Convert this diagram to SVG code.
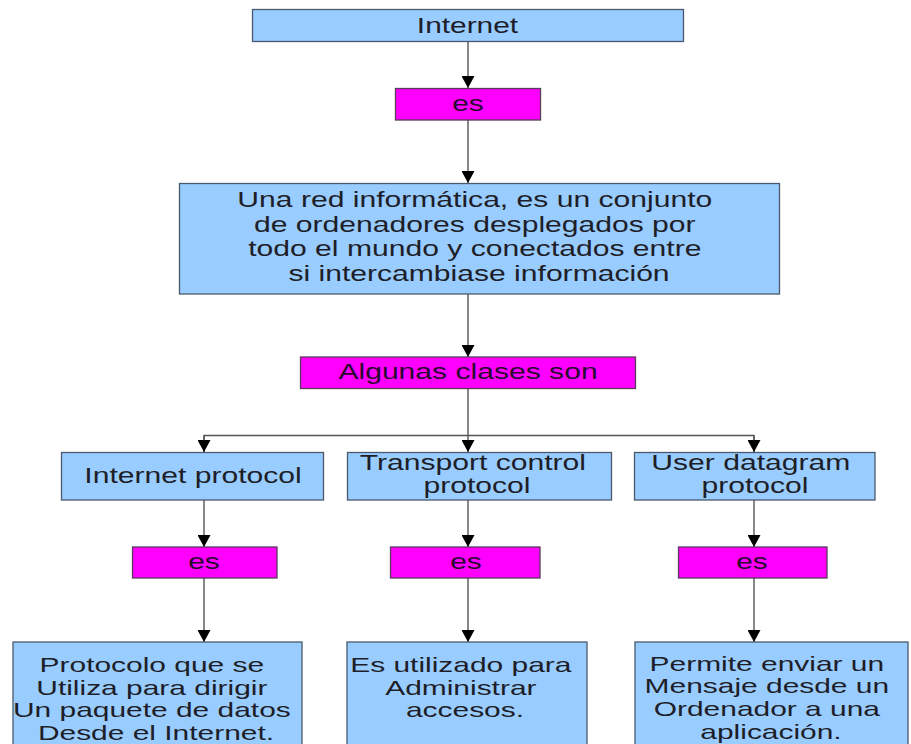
<svg xmlns="http://www.w3.org/2000/svg" width="911" height="744" viewBox="0 0 911 744">
<defs>
<marker id="arr" markerUnits="userSpaceOnUse" markerWidth="13" markerHeight="13" refX="12" refY="6.5" orient="auto" viewBox="0 0 13 13">
<path d="M0,0 L12,6.5 L0,13 Z" fill="#000"/>
</marker>
<style>
.blue{fill:#99ccff;stroke:#4a5a6e;stroke-width:1.3}
.mag{fill:#ff00ff;stroke:#5a3a5a;stroke-width:1.3}
.t{font-family:"Liberation Sans",Arial,sans-serif;font-size:21.5px;fill:#1e1e28;text-anchor:middle}
.tb{font-size:20.5px}
.tm{fill:#2a0a30}
.c{fill:none;stroke:#555;stroke-width:1.4}
.ca{fill:none;stroke:#555;stroke-width:1.4;marker-end:url(#arr)}
</style>
</defs>
<rect width="911" height="744" fill="#fff"/>
<g id="connectors">
<line class="ca" x1="468" y1="42" x2="468" y2="88"/>
<line class="ca" x1="468" y1="120" x2="468" y2="183"/>
<line class="ca" x1="468" y1="294" x2="468" y2="357"/>
<line class="c" x1="468" y1="388" x2="468" y2="435.5"/>
<polyline class="c" points="204,452 204,435.5 754,435.5 754,452"/>
<line class="ca" x1="204" y1="436" x2="204" y2="452"/>
<line class="ca" x1="468" y1="436" x2="468" y2="452"/>
<line class="ca" x1="754" y1="436" x2="754" y2="452"/>
<line class="ca" x1="204" y1="500" x2="204" y2="547"/>
<line class="ca" x1="468" y1="500" x2="468" y2="547"/>
<line class="ca" x1="754" y1="500" x2="754" y2="547"/>
<line class="ca" x1="204" y1="578" x2="204" y2="642"/>
<line class="ca" x1="468" y1="578" x2="468" y2="642"/>
<line class="ca" x1="754" y1="578" x2="754" y2="642"/>
</g>
<g id="internet">
<rect class="blue" x="252.5" y="9.5" width="431" height="32"/>
<text class="t" transform="translate(467.5,0) scale(1.39,1)" x="0" y="33">Internet</text>
</g>
<g id="es1">
<rect class="mag" x="395.5" y="88.5" width="145" height="31.5"/>
<text class="t tm" transform="translate(468,0) scale(1.39,1)" x="0" y="111">es</text>
</g>
<g id="red">
<rect class="blue" x="179.5" y="183.5" width="600" height="110.5"/>
<text class="t" transform="translate(479,0) scale(1.40,1)">
<tspan x="0" y="207.5">Una red informática, es un conjunto</tspan>
<tspan x="0" y="232">de ordenadores desplegados por</tspan>
<tspan x="0" y="256.5">todo el mundo y conectados entre</tspan>
<tspan x="0" y="281">si intercambiase información</tspan>
</text>
</g>
<g id="clases">
<rect class="mag" x="300.5" y="357" width="335" height="31.5"/>
<text class="t tm" transform="translate(468,0) scale(1.40,1)" x="0" y="379.5">Algunas clases son</text>
</g>
<g id="ip">
<rect class="blue" x="61.5" y="452.5" width="262" height="47.5"/>
<text class="t" transform="translate(193,0) scale(1.40,1)" x="0" y="483">Internet protocol</text>
</g>
<g id="tcp">
<rect class="blue" x="347.5" y="452.5" width="264" height="47.5"/>
<text class="t" transform="translate(477,0) scale(1.40,1)">
<tspan x="0" y="470">Transport control</tspan>
<tspan x="0" y="493.5">protocol</tspan>
</text>
</g>
<g id="udp">
<rect class="blue" x="634.5" y="452.5" width="240.5" height="47.5"/>
<text class="t" transform="translate(755,0) scale(1.40,1)">
<tspan x="0" y="470">User datagram</tspan>
<tspan x="0" y="493.5">protocol</tspan>
</text>
</g>
<g id="es2">
<rect class="mag" x="132.5" y="547" width="144.5" height="31"/>
<text class="t tm" transform="translate(204,0) scale(1.39,1)" x="0" y="569.5">es</text>
</g>
<g id="es3">
<rect class="mag" x="390.5" y="547" width="149.5" height="31"/>
<text class="t tm" transform="translate(466,0) scale(1.39,1)" x="0" y="569.5">es</text>
</g>
<g id="es4">
<rect class="mag" x="678.5" y="547" width="148.5" height="31"/>
<text class="t tm" transform="translate(752,0) scale(1.39,1)" x="0" y="569.5">es</text>
</g>
<g id="ip-desc">
<rect class="blue" x="13" y="642" width="289" height="120"/>
<text class="t tb" transform="translate(156,0) scale(1.46,1)">
<tspan x="0" y="672.5">Protocolo que se</tspan>
<tspan x="0" y="695">Utiliza para dirigir</tspan>
<tspan x="0" y="717.5">Un paquete de datos</tspan>
<tspan x="0" y="740">Desde el Internet.</tspan>
</text>
</g>
<g id="tcp-desc">
<rect class="blue" x="347" y="642" width="240" height="120"/>
<text class="t tb" transform="translate(465,0) scale(1.46,1)">
<tspan x="0" y="672.5">Es utilizado para</tspan>
<tspan x="0" y="695">Administrar</tspan>
<tspan x="0" y="717.5">accesos.</tspan>
</text>
</g>
<g id="udp-desc">
<rect class="blue" x="635" y="642" width="273" height="120"/>
<text class="t tb" transform="translate(771,0) scale(1.46,1)">
<tspan x="0" y="671">Permite enviar un</tspan>
<tspan x="0" y="693.5">Mensaje desde un</tspan>
<tspan x="0" y="716">Ordenador a una</tspan>
<tspan x="0" y="739">aplicación.</tspan>
</text>
</g>
</svg>
